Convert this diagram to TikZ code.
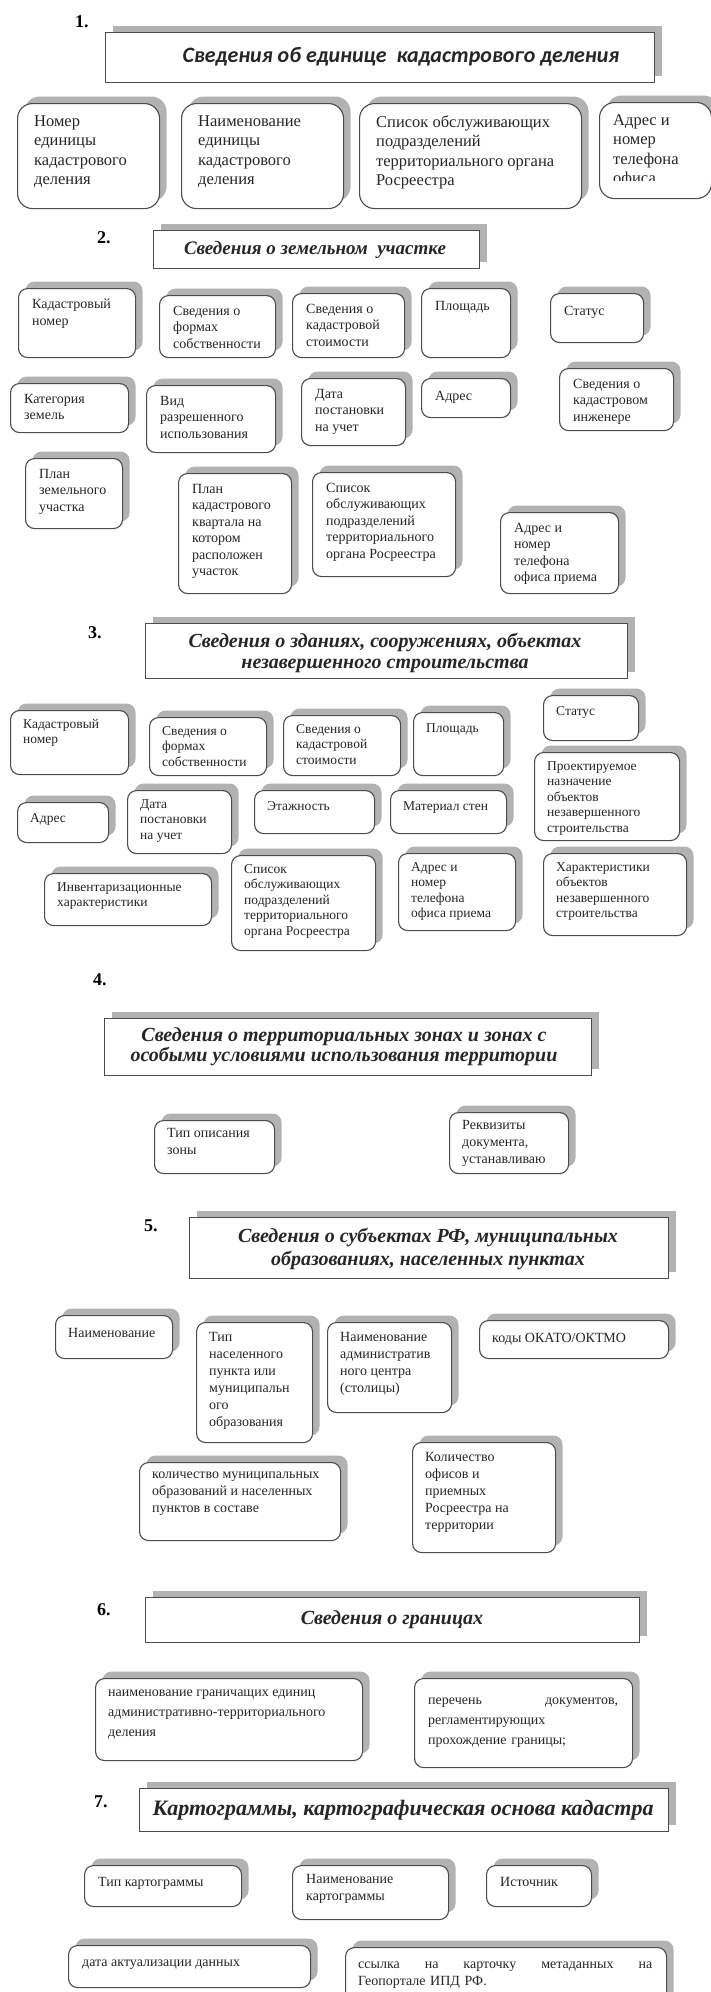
\documentclass[tikz,border=0pt]{standalone}
\usepackage{fontspec}
\setmainfont{Liberation Serif}
\newfontfamily\headsans{Carlito}
\usetikzlibrary{shadows}

\begin{document}
\begin{tikzpicture}[x=1pt,y=-1pt,
    infobox/.style={draw=black!70, line width=1.1pt, rounded corners=9pt, fill=white,
      anchor=north west, inner sep=0pt,
      drop shadow={shadow xshift=7pt, shadow yshift=7pt, fill=black!30, opacity=1}},
    bigbox/.style={infobox, rounded corners=15pt},
    titlebox/.style={infobox, sharp corners},
    boxtext/.style={anchor=north west, align=left, inner sep=0pt, text=black!85,
      font=\fontsize{14}{17}\selectfont, execute at begin node=\strut},
    titletext/.style={align=center, inner sep=0pt, text=black!85,
      font=\fontsize{20}{21}\selectfont\bfseries\itshape},
    numlabel/.style={anchor=base west, inner sep=0pt, font=\fontsize{18}{20}\selectfont\bfseries}]
\useasboundingbox (0,0) rectangle (710,1992);

% 1. kadastrovoe delenie
\node[numlabel] (n1) at (75,27) {1.};
\node[titlebox, minimum width=549pt, minimum height=50pt] (t1) at (105,32) {};
\node[titletext, font=\headsans\fontsize{22}{23}\selectfont\bfseries\itshape] (t1-t) at (401,57)
  {Сведения об единице\ \ кадастрового деления};
\foreach \n/\x/\y/\w/\h/\txt in {
    1a/17/103/142/105/{Номер\\единицы\\кадастрового\\деления},
    1b/181/103/162/105/{Наименование\\единицы\\кадастрового\\деления},
    1c/359/103/222/105/{Список обслуживающих\\подразделений\\территориального органа\\Росреестра}}
  {
  \node[bigbox, minimum width=\w pt, minimum height=\h pt] (\n) at (\x,\y) {};
  \node[boxtext, font=\fontsize{16.5}{19.5}\selectfont] (\n-t) at ([shift={(17pt,-12pt)}]\n.north west) {\txt};
  }
\node[bigbox, minimum width=112pt, minimum height=96pt] (1d) at (599,102) {};
\begin{scope}
  \clip (599,102) rectangle (710,180);
  \node[boxtext, font=\fontsize{16.5}{19.5}\selectfont] (1d-t) at ([shift={(14pt,-12pt)}]1d.north west)
    {Адрес и\\номер\\телефона\\офиса};
\end{scope}

% 2. zemelnyj uchastok
\node[numlabel] (n2) at (97,243) {2.};
\node[titlebox, minimum width=326pt, minimum height=38pt] (t2) at (153,230) {};
\node[titletext, font=\fontsize{19}{20}\selectfont\bfseries\itshape] (t2-t) at (315,250)
  {Сведения о земельном\ \ участке};
\foreach \n/\x/\y/\w/\h/\txt in {
    2a/18/288/117/69/{Кадастровый\\номер},
    2b/159/295/116/62/{Сведения о\\формах\\собственности},
    2c/292/293/112/64/{Сведения о\\кадастровой\\стоимости},
    2d/421/288/89/69/{Площадь},
    2e/550/293/93/49/{Статус},
    2f/10/383/118/49/{Категория\\земель},
    2g/146/385/129/67/{Вид\\разрешенного\\использования},
    2h/301/378/104/67/{Дата\\постановки\\на учет},
    2i/421/378/89/39/{Адрес},
    2j/559/368/114/62/{Сведения о\\кадастровом\\инженере},
    2k/25/458/97/70/{План\\земельного\\участка},
    2l/178/473/113/120/{План\\кадастрового\\квартала на\\котором\\расположен\\участок},
    2m/312/472/143/104/{Список\\обслуживающих\\подразделений\\территориального\\органа Росреестра},
    2n/500/512/118/81/{Адрес и\\номер\\телефона\\офиса приема}}
  {
  \node[infobox, minimum width=\w pt, minimum height=\h pt] (\n) at (\x,\y) {};
  \node[boxtext, font=\fontsize{14}{16.5}\selectfont] (\n-t) at ([shift={(14pt,-11pt)}]\n.north west) {\txt};
  }

% 3. zdaniya, sooruzheniya
\node[numlabel] (n3) at (88,638) {3.};
\node[titlebox, minimum width=482pt, minimum height=55pt] (t3) at (145,623) {};
\node[titletext] (t3-t) at (385,652.5)
  {Сведения о зданиях, сооружениях, объектах\\незавершенного строительства};
\foreach \n/\x/\y/\w/\h/\txt in {
    3a/10/710/118/64/{Кадастровый\\номер},
    3b/149/717/117/58/{Сведения о\\формах\\собственности},
    3c/283/715/117/60/{Сведения о\\кадастровой\\стоимости},
    3d/413/712/90/63/{Площадь},
    3e/543/695/95/45/{Статус},
    3f/534/752/145/88/{Проектируемое\\назначение\\объектов\\незавершенного\\строительства},
    3g/17/802/91/40/{Адрес},
    3h/127/790/104/63/{Дата\\постановки\\на учет},
    3i/254/790/120/43/{Этажность},
    3j/390/790/116/43/{Материал стен},
    3k/44/873/167/52/{Инвентаризационные\\характеристики},
    3l/231/855/144/95/{Список\\обслуживающих\\подразделений\\территориального\\органа Росреестра},
    3m/398/853/117/77/{Адрес и\\номер\\телефона\\офиса приема},
    3n/543/853/143/82/{Характеристики\\объектов\\незавершенного\\строительства}}
  {
  \node[infobox, minimum width=\w pt, minimum height=\h pt] (\n) at (\x,\y) {};
  \node[boxtext, font=\fontsize{13.5}{15.5}\selectfont] (\n-t) at ([shift={(13pt,-9pt)}]\n.north west) {\txt};
  }

% 4. territorialnye zony
\node[numlabel] (n4) at (93,985) {4.};
\node[titlebox, minimum width=487pt, minimum height=57pt] (t4) at (104,1018) {};
\node[titletext, font=\fontsize{20}{20}\selectfont\bfseries\itshape] (t4-t) at (344,1047)
  {Сведения о территориальных зонах и зонах с\\особыми условиями использования территории};
\foreach \n/\x/\y/\w/\h/\txt in {
    4a/154/1120/120/53/{Тип описания\\зоны},
    4b/449/1112/119/61/{Реквизиты\\документа,\\устанавливаю}}
  {
  \node[infobox, minimum width=\w pt, minimum height=\h pt] (\n) at (\x,\y) {};
  \node[boxtext] (\n-t) at ([shift={(13pt,-8pt)}]\n.north west) {\txt};
  }

% 5. subekty RF
\node[numlabel] (n5) at (144,1231) {5.};
\node[titlebox, minimum width=479pt, minimum height=61pt] (t5) at (189,1217) {};
\node[titletext, font=\fontsize{20}{23}\selectfont\bfseries\itshape] (t5-t) at (428,1248.5)
  {Сведения о субъектах РФ, муниципальных\\образованиях, населенных пунктах};
\foreach \n/\x/\y/\w/\h/\txt in {
    5a/55/1315/117/43/{Наименование},
    5b/196/1322/116/120/{Тип\\населенного\\пункта или\\муниципальн\\ого\\образования},
    5c/327/1322/124/90/{Наименование\\административ\\ного центра\\(столицы)},
    5d/479/1320/189/38/{коды ОКАТО/ОКТМО},
    5e/139/1462/201/78/{количество муниципальных\\образований и населенных\\пунктов в составе},
    5f/412/1442/143/110/{Количество\\офисов и\\приемных\\Росреестра на\\территории}}
  {
  \node[infobox, minimum width=\w pt, minimum height=\h pt] (\n) at (\x,\y) {};
  \node[boxtext] (\n-t) at ([shift={(13pt,-10pt)}]\n.north west) {\txt};
  }

% 6. granicy
\node[numlabel] (n6) at (97,1615) {6.};
\node[titlebox, minimum width=494pt, minimum height=45pt] (t6) at (145,1597) {};
\node[titletext] (t6-t) at (392,1620) {Сведения о границах};
\node[infobox, minimum width=267pt, minimum height=82pt] (6a) at (95,1678) {};
\node[boxtext, font=\fontsize{14}{20}\selectfont] (6a-t) at ([shift={(13pt,-12pt)}]6a.north west)
  {наименование граничащих единиц\\административно-территориального\\деления};
\node[infobox, minimum width=218pt, minimum height=89pt] (6b) at (414,1678) {};
\node[boxtext, font=\fontsize{14}{20}\selectfont, text width=190pt] (6b-t) at ([shift={(14pt,-12pt)}]6b.north west)
  {перечень\hfill документов,\\регламентирующих\\прохождение границы;};

% 7. kartogrammy
\node[numlabel] (n7) at (94,1807) {7.};
\node[titlebox, minimum width=529pt, minimum height=43pt] (t7) at (139,1788) {};
\node[titletext, font=\fontsize{22}{23}\selectfont\bfseries\itshape] (t7-t) at (403,1810)
  {Картограммы, картографическая основа кадастра};
\foreach \n/\x/\y/\w/\h/\txt in {
    7a/84/1865/157/41/{Тип картограммы},
    7b/292/1865/156/54/{Наименование\\картограммы},
    7c/486/1865/105/41/{Источник},
    7d/68/1945/242/42/{дата актуализации данных}}
  {
  \node[infobox, minimum width=\w pt, minimum height=\h pt] (\n) at (\x,\y) {};
  \node[boxtext] (\n-t) at ([shift={(14pt,-9pt)}]\n.north west) {\txt};
  }
\node[infobox, minimum width=321pt, minimum height=60pt] (7e) at (345,1947) {};
\node[boxtext, text width=294pt] (7e-t) at ([shift={(13pt,-9pt)}]7e.north west)
  {ссылка\hfill на\hfill карточку\hfill метаданных\hfill на\\Геопортале ИПД РФ.};
\end{tikzpicture}
\end{document}
